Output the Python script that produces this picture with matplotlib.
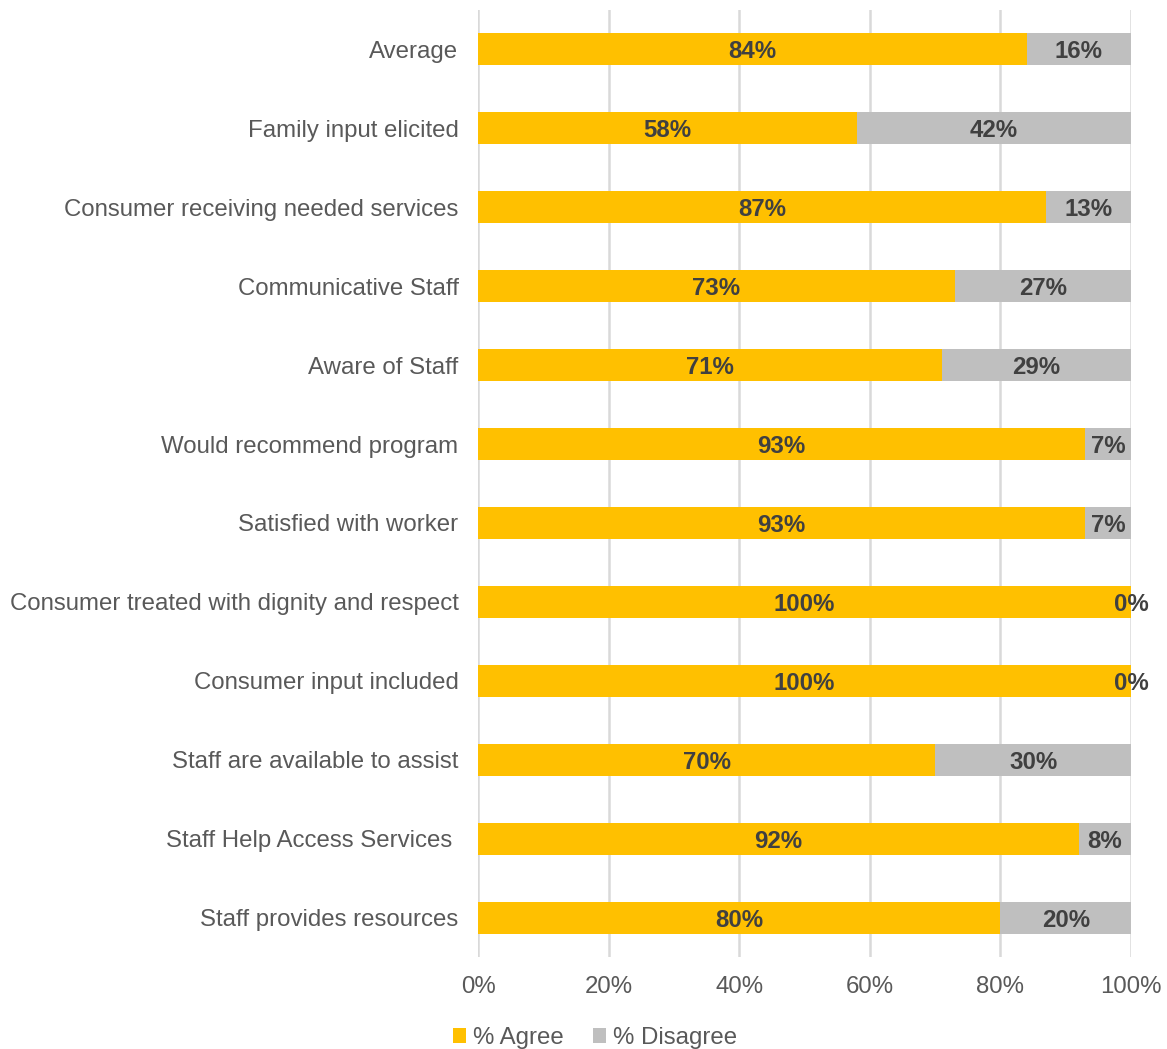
import matplotlib
import matplotlib.pyplot as plt

matplotlib.use("Agg")
plt.rcParams['font.family'] = ['Liberation Sans', 'DejaVu Sans']

# survey items, top to bottom
items = [
	"Average",
	"Family input elicited",
	"Consumer receiving needed services",
	"Communicative Staff",
	"Aware of Staff",
	"Would recommend program",
	"Satisfied with worker",
	"Consumer treated with dignity and respect",
	"Consumer input included",
	"Staff are available to assist",
	"Staff Help Access Services ",
	"Staff provides resources",
]
agree = [84, 58, 87, 73, 71, 93, 93, 100, 100, 70, 92, 80]
disagree = [16, 42, 13, 27, 29, 7, 7, 0, 0, 30, 8, 20]
xticks = [0, 20, 40, 60, 80, 100]

gold = '#FFC000'
grey = '#BFBFBF'
label_col = '#595959'
value_col = '#404040'
fs = 17.3

fig = plt.figure(figsize=(11.67, 10.49), dpi=100)
ax = fig.add_axes([0.4096, 0.0877, 0.5596, 0.9028])

ypos = list(range(len(items)))
b1 = ax.barh(ypos, agree, height=0.405, color=gold, label='% Agree', zorder=3)
b2 = ax.barh(ypos, disagree, left=agree, height=0.405, color=grey, label='% Disagree', zorder=3)

for bars, vals in ((b1, agree), (b2, disagree)):
	for bar, v in zip(bars, vals):
		cx = bar.get_x() + bar.get_width() / 2
		cy = bar.get_y() + bar.get_height() / 2
		ax.text(cx, cy, "{}%".format(v), ha='center', va='center_baseline', fontsize=fs,
			fontweight='bold', color=value_col, zorder=4)

ax.set_xlim(0, 100)
ax.set_ylim(len(items) - 0.5, -0.5)
ax.set_yticks(ypos)
ax.set_yticklabels(items, fontsize=fs, color=label_col)
ax.set_xticks(xticks)
ax.set_xticklabels(["{}%".format(t) for t in xticks], fontsize=fs, color=label_col)
ax.tick_params(axis='both', length=0)
ax.tick_params(axis='y', pad=14)
ax.tick_params(axis='x', pad=13.5)
for s in ax.spines.values():
	s.set_visible(False)
ax.grid(axis='x', color='#D9D9D9', linewidth=1.8, zorder=0)
ax.set_axisbelow(True)

fig.legend(handles=[b1, b2], loc='center', bbox_to_anchor=(595 / 1167, 1 - 1038 / 1049),
	ncol=2, frameon=False, fontsize=fs, labelcolor=label_col, handlelength=0.55,
	handleheight=0.55, handletextpad=0.3, columnspacing=1.2)

fig.savefig("out.png", dpi=100)
plt.close(fig)
